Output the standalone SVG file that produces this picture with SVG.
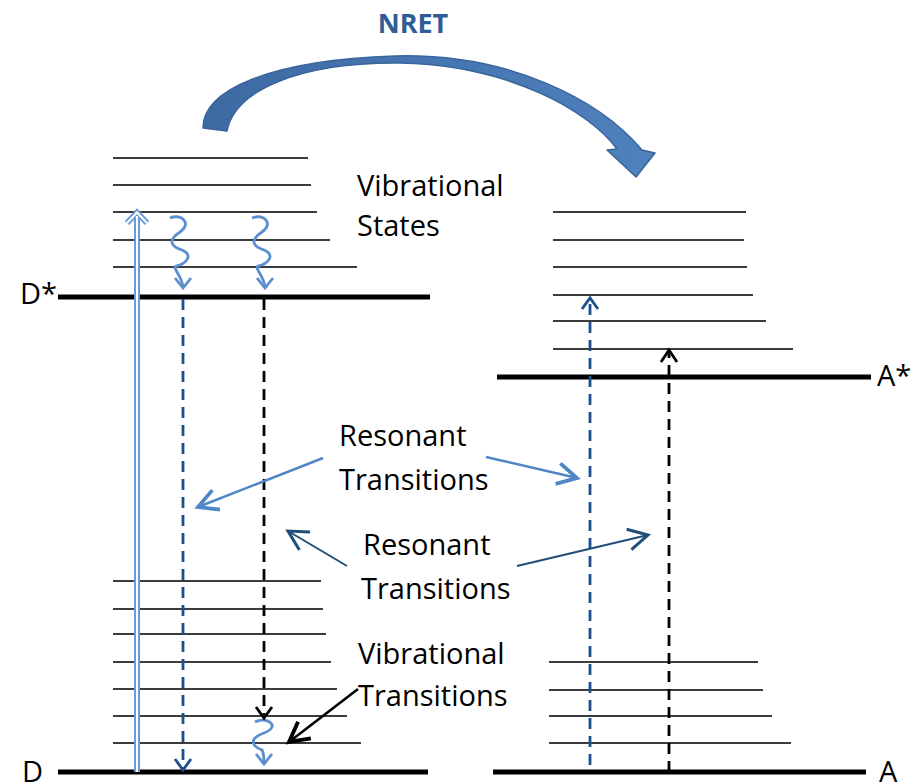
<svg xmlns="http://www.w3.org/2000/svg" width="915" height="783" viewBox="0 0 915 783">
<defs>
<style>
.lvl{stroke:#3c3c3c;stroke-width:2;fill:none}
.thick{stroke:#000;stroke-width:5;fill:none}
.dashb{stroke:#1f4e8c;stroke-width:2.8;stroke-dasharray:11 7;fill:none}
.dashk{stroke:#000;stroke-width:2.8;stroke-dasharray:11 7;fill:none}
.chevb{stroke:#1f4e8c;stroke-width:2.8;fill:none}
.chevk{stroke:#000;stroke-width:2.8;fill:none}
.wavy{stroke:#5b8fcf;stroke-width:2.8;fill:none}
.t{font-family:"Open Sans","Noto Sans","DejaVu Sans",sans-serif;font-size:29px;fill:#000}
.ann-l{stroke:#4f86c6;stroke-width:2.5;fill:none}
.ann-d{stroke:#1f4e79;stroke-width:2;fill:none}
.ann-k{stroke:#000;stroke-width:2.6;fill:none}
</style>
<marker id="mL" markerUnits="userSpaceOnUse" markerWidth="30" markerHeight="30" viewBox="-16 -10 20 20" refX="0" refY="0" orient="auto"><path d="M-13 -7 L0 0 L-13 7" stroke="#4f86c6" stroke-width="2.5" fill="none"/></marker>
<marker id="mD" markerUnits="userSpaceOnUse" markerWidth="30" markerHeight="30" viewBox="-16 -10 20 20" refX="0" refY="0" orient="auto"><path d="M-13 -7 L0 0 L-13 7" stroke="#1f4e79" stroke-width="2" fill="none"/></marker>
<marker id="mK" markerUnits="userSpaceOnUse" markerWidth="30" markerHeight="30" viewBox="-16 -10 20 20" refX="0" refY="0" orient="auto"><path d="M-13 -7 L0 0 L-13 7" stroke="#000" stroke-width="2.6" fill="none"/></marker>
<linearGradient id="gA" x1="0" y1="0" x2="1" y2="0">
<stop offset="0" stop-color="#3d6aa3"/>
<stop offset="1" stop-color="#4f81bd"/>
</linearGradient>
</defs>

<g id="nret">
<path d="M 203 128 C 203 90, 270 60, 395 56 C 510 53, 600 100, 642 150 L 655 153 L 636 177 L 607 150 L 617 149 C 590 112, 510 65, 400 63 C 300 62, 235 90, 227 131 Z" fill="url(#gA)" stroke="#3a659c" stroke-width="1.5" stroke-linejoin="round"/>
<text x="413" y="33" text-anchor="middle" style="font-family:'Open Sans','Noto Sans',sans-serif;font-size:27px;font-weight:bold;fill:#2f5c96">NRET</text>
</g>

<g id="donor-excited">
<line class="lvl" x1="113" y1="158" x2="308" y2="158"/>
<line class="lvl" x1="113" y1="185" x2="311" y2="185"/>
<line class="lvl" x1="113" y1="212" x2="317" y2="212"/>
<line class="lvl" x1="113" y1="240" x2="330" y2="240"/>
<line class="lvl" x1="113" y1="267" x2="357" y2="267"/>
<line class="thick" x1="58" y1="297" x2="430" y2="297"/>
<text class="t" x="20" y="304">D*</text>
</g>

<g id="donor-ground">
<line class="lvl" x1="113" y1="581" x2="321" y2="581"/>
<line class="lvl" x1="113" y1="609" x2="323" y2="609"/>
<line class="lvl" x1="113" y1="634" x2="326" y2="634"/>
<line class="lvl" x1="113" y1="662" x2="331" y2="662"/>
<line class="lvl" x1="113" y1="689" x2="337" y2="689"/>
<line class="lvl" x1="113" y1="716" x2="347" y2="716"/>
<line class="lvl" x1="113" y1="743" x2="361" y2="743"/>
<line class="thick" x1="58" y1="772" x2="428" y2="772"/>
<text class="t" x="22" y="782">D</text>
</g>

<g id="acceptor-excited">
<line class="lvl" x1="553" y1="212" x2="746" y2="212"/>
<line class="lvl" x1="553" y1="240" x2="744" y2="240"/>
<line class="lvl" x1="553" y1="267" x2="747" y2="267"/>
<line class="lvl" x1="553" y1="295" x2="753" y2="295"/>
<line class="lvl" x1="553" y1="321" x2="766" y2="321"/>
<line class="lvl" x1="553" y1="349" x2="793" y2="349"/>
<line class="thick" x1="497" y1="377" x2="871" y2="377"/>
<text class="t" x="877" y="386">A*</text>
</g>

<g id="acceptor-ground">
<line class="lvl" x1="549" y1="662" x2="758" y2="662"/>
<line class="lvl" x1="549" y1="690" x2="763" y2="690"/>
<line class="lvl" x1="549" y1="716" x2="772" y2="716"/>
<line class="lvl" x1="549" y1="743" x2="791" y2="743"/>
<line class="thick" x1="493" y1="772" x2="866" y2="772"/>
<text class="t" x="879" y="782">A</text>
</g>

<g id="labels">
<text class="t" x="357" y="196">Vibrational</text>
<text class="t" x="357" y="236">States</text>
<text class="t" x="339" y="446">Resonant</text>
<text class="t" x="339" y="490">Transitions</text>
<text class="t" x="363" y="555">Resonant</text>
<text class="t" x="361" y="599">Transitions</text>
<text class="t" x="358" y="664">Vibrational</text>
<text class="t" x="358" y="706">Transitions</text>
</g>

<g id="connectors">
<path d="M137 772 L137 214 M127 223 L137 212.5 L147 223" stroke="#6a9bd6" stroke-width="6" fill="none"/>
<path d="M137 772 L137 216 M127 223 L137 212.5 L147 223" stroke="#fff" stroke-width="2" fill="none"/>
<path class="wavy" d="M170 218 C182 213, 192 224, 180 232 C168 240, 170 246, 182 250 C194 255, 186 264, 176 266 C172 268, 182 276, 183 287"/>
<path class="wavy" d="M175 278 L183 288 L191 278"/>
<path class="wavy" d="M252 218 C264 213, 274 224, 262 232 C250 240, 252 246, 264 250 C276 255, 268 264, 258 266 C254 268, 264 276, 265 287"/>
<path class="wavy" d="M257 278 L265 288 L273 278"/>
<path class="wavy" d="M255 722 C266 716, 282 726, 264 733 C248 739, 252 746, 262 750 C264 754, 264 758, 264 763"/>
<path class="wavy" d="M256 754 L264 764 L272 754"/>
<line class="dashb" x1="183" y1="299" x2="183" y2="768"/>
<path class="chevb" d="M175 759 L183 770 L191 759"/>
<line class="dashk" x1="264" y1="299" x2="264" y2="716"/>
<path class="chevk" d="M256 707 L264 718 L272 707"/>
<line class="dashb" x1="590" y1="765" x2="590" y2="299"/>
<path class="chevb" d="M582 309 L590 298 L598 309"/>
<line class="dashk" x1="669" y1="772" x2="669" y2="351"/>
<path class="chevk" d="M661 362 L669 350 L677 362"/>
<line class="ann-l" x1="323" y1="458" x2="198" y2="507" marker-end="url(#mL)"/>
<line class="ann-l" x1="486" y1="457" x2="577" y2="478" marker-end="url(#mL)"/>
<line class="ann-d" x1="347" y1="566" x2="288" y2="531" marker-end="url(#mD)"/>
<line class="ann-d" x1="517" y1="566" x2="648" y2="535" marker-end="url(#mD)"/>
<line class="ann-k" x1="358" y1="689" x2="289" y2="742" marker-end="url(#mK)"/>
</g>
</svg>
